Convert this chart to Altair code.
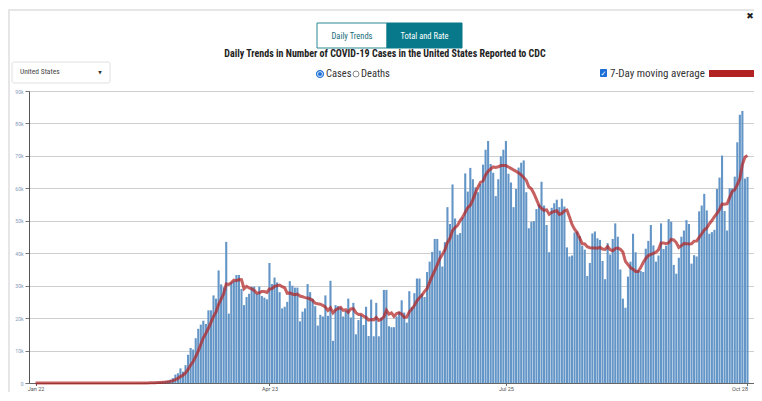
import altair as alt
import pandas as pd

# ---------------- data (daily reported cases, Jan 22 - Oct 28) ----------------
cases_jan = [0, 0, 1, 0, 0, 0, 1, 0, 0, 1]
cases_feb = [0, 0, 0, 1, 0, 0, 0, 0, 1, 0, 0, 0, 0, 0, 0, 1, 0, 0, 0, 0,
             0, 1, 0, 0, 0, 3, 2, 5, 10]
cases_mar = [15, 20, 25, 40, 60, 70, 110, 150, 200, 270, 380, 460, 530, 700,
             1000, 1500, 2600, 3000, 4500, 3500, 5500, 8700, 10800, 10300,
             13800, 16700, 18000, 19200, 18200, 22400, 22400]
cases_apr = [27000, 26000, 34700, 30400, 29500, 43500, 21400, 31000, 31500,
             33300, 33300, 29000, 24000, 26500, 27500, 29700, 29700, 27500,
             29700, 26800, 26300, 25800, 37000, 30500, 32500, 31000, 28000,
             23000, 23500, 25000]
cases_may = [31400, 30000, 29400, 29400, 19000, 22000, 23000, 30500, 28000,
             26000, 23700, 17700, 21000, 20500, 27000, 20700, 31500, 13000,
             24000, 23700, 23200, 20500, 22200, 26000, 20200, 24700, 15000,
             19400, 20900, 17900, 23500]
cases_jun = [14500, 25700, 14400, 24700, 14400, 20200, 28700, 28700, 17500,
             17200, 17200, 20500, 21900, 25500, 21700, 18600, 28300, 23400,
             27700, 32200, 32200, 27500, 26500, 34200, 37400, 40400, 44400,
             44400, 40800, 35900]
cases_jul = [43400, 54200, 49000, 61200, 50700, 45700, 46200, 51000, 64600,
             59000, 66300, 62800, 60300, 58800, 61300, 67300, 71900, 74600,
             67500, 64800, 57600, 62800, 69900, 71900, 74600, 64500, 61800,
             54200, 59800, 66400, 67900]
cases_aug = [68600, 58800, 47700, 49700, 49900, 53600, 55000, 62000, 54700,
             48700, 40300, 54000, 55400, 56500, 54200, 56800, 54400, 41800,
             39000, 39300, 46400, 46700, 45300, 42300, 41100, 33000, 37000,
             46100, 46700, 44600, 44100]
cases_sep = [37600, 32000, 43100, 39600, 44400, 49200, 45100, 35000, 26000,
             23200, 32800, 37400, 46000, 40300, 34800, 34500, 34200, 41400,
             43800, 48700, 42400, 37400, 39300, 49200, 41300, 42300, 50500,
             49700, 36400, 33700]
cases_oct = [38600, 45100, 47000, 50200, 49000, 36800, 39400, 39000, 52900,
             54700, 58300, 53200, 46000, 46500, 47200, 59800, 63300, 70100,
             53000, 47000, 60000, 60000, 63600, 74200, 82700, 83800, 63000,
             63500]

tick_days = [0, 92, 185, 280]
tick_labels = ["Jan 22", "Apr 23", "Jul 25", "Oct 28"]
y_ticks = [0, 10000, 20000, 30000, 40000, 50000, 60000, 70000, 80000, 90000]

title_text = "Daily Trends in Number of COVID-19 Cases in the United States Reported to CDC"

cases = (cases_jan + cases_feb + cases_mar + cases_apr + cases_may + cases_jun
         + cases_jul + cases_aug + cases_sep + cases_oct)
df = pd.DataFrame({"day": list(range(len(cases))), "cases": cases})

# ---------------- layout ----------------
PAD_L, PAD_T, PAD_B = 21, 83, 9
OX, OY = 8 + PAD_L, 8 + PAD_T      # page position of plot origin
PLOT_W, PLOT_H = 725, 292
NARROW = "Liberation Sans Narrow, Roboto Condensed, Arial Narrow, Roboto, sans-serif"

one = pd.DataFrame({"t": [""]})


def text_layer(txt, px, py, size, color="#333333", weight="normal", align="left", font=NARROW):
    return alt.Chart(pd.DataFrame({"t": [txt]})).mark_text(
        align=align, baseline="middle", fontSize=size, color=color,
        fontWeight=weight, font=font
    ).encode(x=alt.value(px - OX), y=alt.value(py - OY), text="t:N")


def rect_layer(x1, y1, x2, y2, fill, stroke="transparent", sw=1.0, radius=0):
    return alt.Chart(one).mark_rect(
        fill=fill, stroke=stroke, strokeWidth=sw, cornerRadius=radius
    ).encode(x=alt.value(x1 - OX), x2=alt.value(x2 - OX),
             y=alt.value(y1 - OY), y2=alt.value(y2 - OY))


def dot_layer(px, py, size, fill, stroke, sw=1.0):
    return alt.Chart(one).mark_point(
        shape="circle", size=size, fill=fill, stroke=stroke, strokeWidth=sw,
        filled=True, opacity=1
    ).encode(x=alt.value(px - OX), y=alt.value(py - OY))


x_label_expr = " : ".join(
    f"datum.value == {d} ? '{l}'" for d, l in zip(tick_days, tick_labels)
) + " : ''"

x_scale = alt.Scale(domain=[-0.6, 280.6], nice=False, zero=False)
x_axis = alt.Axis(values=tick_days, labelExpr=x_label_expr, grid=False,
                  labelAlign={"expr": f"datum.value >= {tick_days[-1]} ? 'right' : 'center'"},
                  labelFontSize=5.5, labelColor="#555555", tickSize=2.5,
                  tickColor="#666666", domainColor="#666666",
                  labelPadding=0.5, labelFont="Roboto", labelOverlap=False)

y_scale = alt.Scale(domain=[0, 90000], nice=False)
y_axis = alt.Axis(values=y_ticks, tickCount=10,
                  labelExpr="datum.value == 0 ? '0' : (datum.value / 1000) + 'k'",
                  labelFontSize=5, labelColor="#7f97b7", tickSize=4,
                  tickColor="#777777", domainColor="#555555",
                  gridColor="#cfcfcf", gridOpacity=1, labelPadding=2,
                  labelFont="Roboto", labelOverlap=False)

bars = alt.Chart(df).mark_bar(size=2.1, color="#6395c7").encode(
    x=alt.X("day:Q", title=None, scale=x_scale, axis=x_axis),
    y=alt.Y("cases:Q", title=None, scale=y_scale, axis=y_axis),
)

line = alt.Chart(df).transform_window(
    ma="mean(cases)", frame=[-6, 0], sort=[alt.SortField("day")]
).mark_line(color="#b22222", opacity=0.72, strokeWidth=3).encode(
    x=alt.X("day:Q", title=None, scale=x_scale, axis=x_axis),
    y=alt.Y("ma:Q", title=None, scale=y_scale, axis=y_axis),
)

header = [
    # panel frame
    rect_layer(8, 9, 754, 11, "#e6e6e6"),
    rect_layer(8, 9, 10, 392, "#e6e6e6"),
    # buttons
    rect_layer(317, 23, 387, 48, "#ffffff", stroke="#2a8a96", sw=1),
    rect_layer(387, 23, 462, 48, "#08798a", stroke="#08798a", sw=1),
    text_layer("Daily Trends", 352, 36, 8.5, color="#1a6e7a", align="center"),
    text_layer("Total and Rate", 424.5, 36, 8.5, color="#ffffff", align="center"),
    # title
    text_layer(title_text, 385, 54, 10, color="#222222", weight="bold", align="center"),
    # dropdown
    rect_layer(12, 62, 110, 83, "#ffffff", stroke="#e0e0e0", sw=1, radius=2),
    text_layer("United States", 20, 72, 7.5, color="#444444"),
    text_layer("▼", 100, 73, 4.5, color="#333333", align="center", font="DejaVu Sans"),
    # radio buttons
    dot_layer(320, 74, 48, "#ffffff", "#1b6fd6", 1.2),
    dot_layer(320, 74, 14, "#1b6fd6", "#1b6fd6", 0.5),
    text_layer("Cases", 326, 74, 10.5, color="#333333"),
    dot_layer(356, 74, 36, "#ffffff", "#8a8a8a", 1),
    text_layer("Deaths", 361, 74, 10.5, color="#333333"),
    # legend
    rect_layer(600, 69, 607, 77, "#1b6fd6", radius=1),
    text_layer("✓", 603.5, 73.5, 7, color="#ffffff", align="center", font="DejaVu Sans"),
    text_layer("7-Day moving average", 610, 74, 11, color="#333333"),
    rect_layer(709, 70, 754, 77, "#b22222"),
    # close icon
    text_layer("✖", 750, 16, 9, color="#222222", align="center", font="DejaVu Sans"),
]

chart = alt.layer(bars, line, *header).properties(
    width=PLOT_W, height=PLOT_H,
    padding={"left": PAD_L, "top": PAD_T, "right": 0, "bottom": PAD_B},
    autosize=alt.AutoSizeParams(type="none"),
).configure_view(stroke="transparent").configure(background="#ffffff")

chart.save("out.html", embed_options={"renderer": "svg", "actions": False})
